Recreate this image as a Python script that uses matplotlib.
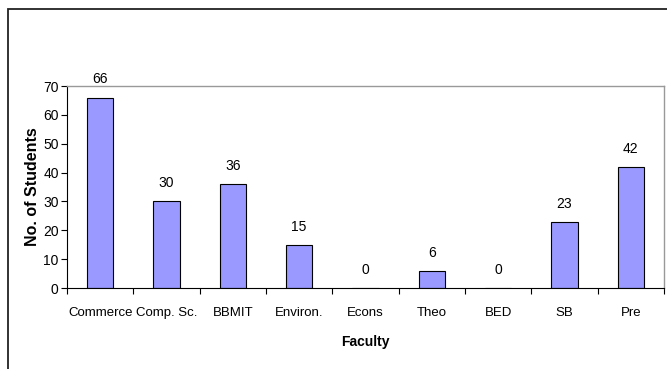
import numpy as np
import matplotlib.pyplot as plt
from matplotlib.patches import Rectangle

faculties = ['Commerce', 'Comp. Sc.', 'BBMIT', 'Environ.', 'Econs', 'Theo', 'BED', 'SB', 'Pre']
students = [66, 30, 36, 15, 0, 6, 0, 23, 42]

plt.rcParams['font.family'] = ['Liberation Sans', 'DejaVu Sans']
fs = 9.5    # category names (the original font is narrow, so keep widths in check)
fs_num = 10

W, H = 667, 369
fig = plt.figure(figsize=(W / 100, H / 100), dpi=100)

# outer chart frame (left and top edges visible, rest runs off the picture)
fig.patches.append(Rectangle((8 / W, -0.05), 1.2, (H - 9) / H + 0.05,
                             transform=fig.transFigure, fill=False,
                             edgecolor='#222222', linewidth=1.3))

left, right, top, bottom = 67, 664, 86, 288
ax = fig.add_axes([left / W, 1 - bottom / H, (right - left) / W, (bottom - top) / H])

x = np.arange(len(faculties))
bars = ax.bar(x, students, width=0.4, color='#9999FF', edgecolor='black', linewidth=0.8)

for xi, v in zip(x, students):
    ax.annotate(str(v), (xi, v), xytext=(0, 13), textcoords='offset points',
                ha='center', va='center', fontsize=fs_num)

ax.set_xlim(-0.5, len(faculties) - 0.5)
ax.set_ylim(0, 70)
ax.set_yticks(range(0, 71, 10))
ax.set_xticks(x)
ax.set_xticklabels(faculties)
ax.set_xticks(np.arange(-0.5, len(faculties)), minor=True)
ax.tick_params(axis='x', which='major', length=0, pad=13.5, labelsize=fs)
ax.tick_params(axis='x', which='minor', length=4, width=0.8, direction='out')
ax.tick_params(axis='y', length=4, width=0.8, direction='out', labelsize=fs_num, pad=2)

for s in ['left', 'bottom']:
    ax.spines[s].set_color('black')
    ax.spines[s].set_linewidth(0.8)
for s in ['top', 'right']:
    ax.spines[s].set_color('#999999')
    ax.spines[s].set_linewidth(1.0)

ax.set_xlabel('Faculty', fontweight='bold', fontsize=10, labelpad=12)
ax.set_ylabel('No. of Students', fontweight='bold', fontsize=11.5, labelpad=2)

fig.savefig('out.png', dpi=100)
